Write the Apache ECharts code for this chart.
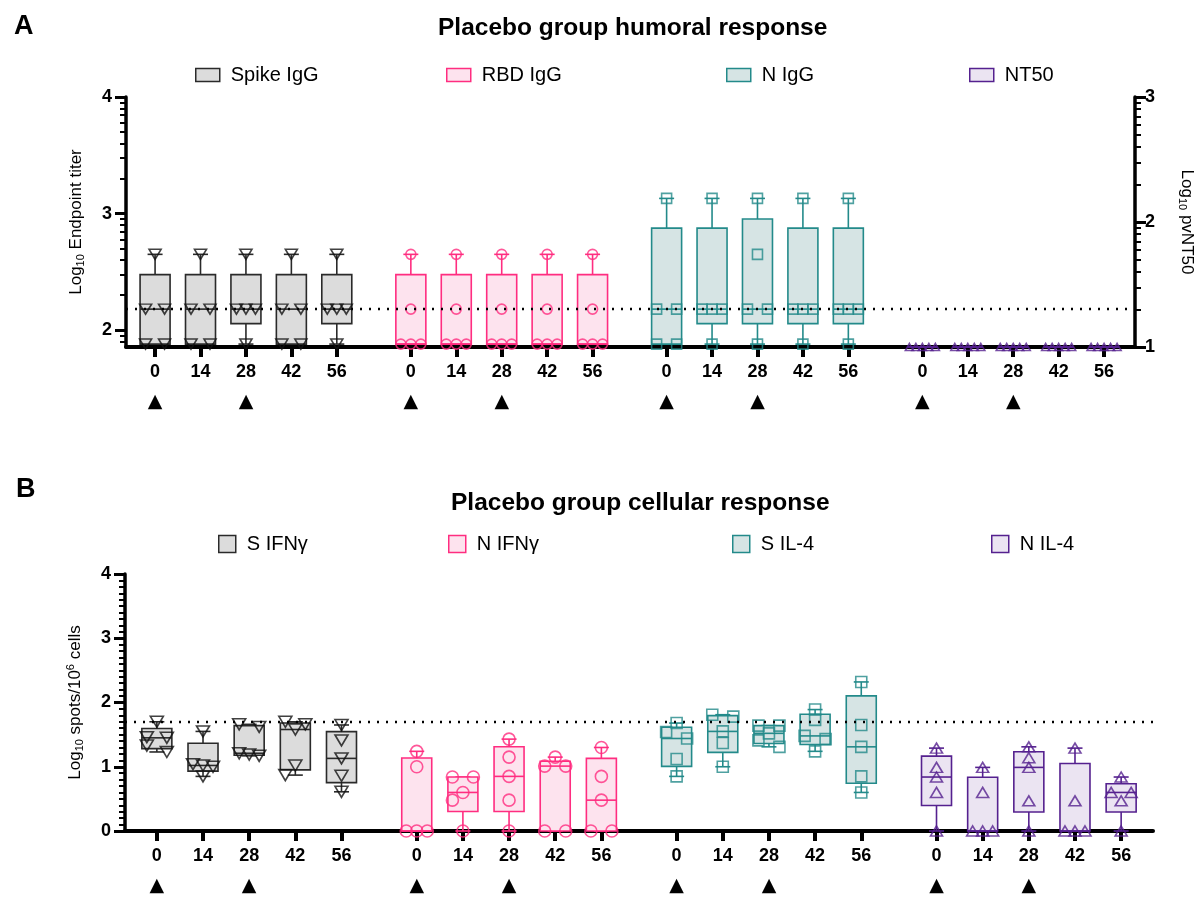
<!DOCTYPE html>
<html>
<head>
<meta charset="utf-8">
<script src="https://cdn.jsdelivr.net/npm/echarts@6/dist/echarts.min.js"></script>
<style>
  html, body { margin: 0; padding: 0; background: #fff; }
  #chart { width: 1199px; height: 898px; }
</style>
</head>
<body>
<div id="chart"></div>
<script>
// ---- data -------------------------------------------------------------
const DAYS = [0, 14, 28, 42, 56];
const BOOST_DAYS = [0, 28];

// A: log10 endpoint titers, five animals per day
const spikeIgG = [
  [2.65, 2.18, 2.18, 1.88, 1.88],
  [2.65, 2.18, 2.18, 1.88, 1.88],
  [2.65, 2.18, 2.18, 2.18, 1.88],
  [2.65, 2.18, 2.18, 1.88, 1.88],
  [2.65, 2.18, 2.18, 2.18, 1.88]
];
const rbdIgG = [
  [2.65, 2.18, 1.88, 1.88, 1.88],
  [2.65, 2.18, 1.88, 1.88, 1.88],
  [2.65, 2.18, 1.88, 1.88, 1.88],
  [2.65, 2.18, 1.88, 1.88, 1.88],
  [2.65, 2.18, 1.88, 1.88, 1.88]
];
const nIgG = [
  [3.13, 2.18, 2.18, 1.88, 1.88],
  [3.13, 2.18, 2.18, 2.18, 1.88],
  [3.13, 2.65, 2.18, 2.18, 1.88],
  [3.13, 2.18, 2.18, 2.18, 1.88],
  [3.13, 2.18, 2.18, 2.18, 1.88]
];
// A, right axis: log10 pseudovirus NT50
const nt50 = [
  [1, 1, 1, 1, 1],
  [1, 1, 1, 1, 1],
  [1, 1, 1, 1, 1],
  [1, 1, 1, 1, 1],
  [1, 1, 1, 1, 1]
];

// B: log10 spots per 10^6 cells
const sIFNg = [
  [1.70, 1.46, 1.45, 1.33, 1.23],
  [1.55, 1.04, 1.02, 1.00, 0.85],
  [1.66, 1.62, 1.21, 1.19, 1.17],
  [1.70, 1.66, 1.58, 1.02, 0.87],
  [1.65, 1.41, 1.13, 0.86, 0.61]
];
const nIFNg = [
  [1.24, 1.00, 0, 0, 0],
  [0.84, 0.84, 0.60, 0.48, 0],
  [1.43, 1.15, 0.85, 0.48, 0],
  [1.15, 1.01, 1.01, 0, 0],
  [1.30, 0.85, 0.48, 0, 0]
];
const sIL4 = [
  [1.68, 1.54, 1.44, 1.12, 0.85],
  [1.81, 1.78, 1.55, 1.37, 1.00],
  [1.64, 1.64, 1.52, 1.41, 1.31],
  [1.89, 1.73, 1.48, 1.43, 1.24],
  [2.32, 1.65, 1.31, 0.85, 0.60]
];
const nIL4 = [
  [1.29, 0.99, 0.84, 0.60, 0],
  [0.99, 0.60, 0, 0, 0],
  [1.31, 1.14, 0.99, 0.47, 0],
  [1.29, 0.47, 0, 0, 0],
  [0.84, 0.60, 0.60, 0.47, 0]
];

// detection limits (log10)
const LOD_TITER = 2.18;
const LOD_SPOTS = 1.70;

// axis ranges and tick labels
const A_LEFT = { min: 1.855, max: 4, labels: [2, 3, 4] };
const A_RIGHT = { min: 1, max: 3, labels: [1, 2, 3] };
const B_LEFT = { min: 0, max: 4, labels: [0, 1, 2, 3, 4] };

// ---- layout -----------------------------------------------------------
const FONT = '"Liberation Sans", Arial, Helvetica, sans-serif';
const GROUP_STEP = 5.63;           // spacing between antigen groups, in day slots
const GRID_A = { left: 126, top: 97, width: 1009, height: 250 };
const GRID_B = { left: 125, top: 574, width: 1028, height: 257 };
const XR_A = { min: -0.64, max: 21.57 };
const XR_B = { min: -0.69, max: 21.58 };

const positions = [];
const dayAtPos = {};
for (let g = 0; g < 4; g++) {
  DAYS.forEach((d, j) => {
    const p = +(g * GROUP_STEP + j).toFixed(3);
    positions.push(p);
    dayAtPos[p.toFixed(3)] = d;
  });
}
const xPos = (g, j) => positions[g * 5 + j];

// ---- helpers ----------------------------------------------------------
// quartiles on the untransformed scale (n+1 percentile rule), reported in log10
function boxStats(vals) {
  const raw = vals.map(v => Math.pow(10, v)).sort((a, b) => a - b);
  const n = raw.length;
  const pct = p => {
    const pos = p * (n + 1);
    const lo = Math.floor(pos), f = pos - lo;
    if (lo < 1) return raw[0];
    if (lo >= n) return raw[n - 1];
    return raw[lo - 1] + f * (raw[lo] - raw[lo - 1]);
  };
  return [raw[0], pct(0.25), pct(0.5), pct(0.75), raw[n - 1]].map(Math.log10);
}

// spread points that would overlap side by side (pixel offsets)
function spread(vals, pxPerY, size, step) {
  const pts = vals.map(v => ({ v, y: v * pxPerY, dx: 0 })).sort((a, b) => b.v - a.v);
  const bins = [];
  pts.forEach(p => {
    const b = bins[bins.length - 1];
    if (b && Math.abs(b[0].y - p.y) < size * 0.6) b.push(p); else bins.push([p]);
  });
  const placed = [];
  const hit = (y, dx) => placed.some(q => Math.abs(q.y - y) < size * 0.9 && Math.abs(q.dx - dx) < step * 0.9);
  bins.forEach(b => {
    const k = b.length;
    if (k > 1) {
      const offs = k === 2 ? [-step, step] : b.map((_, i) => (i - (k - 1) / 2) * step);
      b.forEach((p, i) => { p.dx = offs[i]; placed.push(p); });
    } else {
      const p = b[0];
      const c = [0, -step, step, -2 * step, 2 * step].find(dx => !hit(p.y, dx));
      p.dx = c === undefined ? 0 : c;
      placed.push(p);
    }
  });
  return pts;
}

function boxRenderer(stroke, fill, lw) {
  return function (params, api) {
    const x = api.value(0);
    const c = i => api.coord([x, api.value(i)]);
    const lo = c(1), q1 = c(2), md = c(3), q3 = c(4), hi = c(5);
    const hw = 15, cap = 7.5;
    const ls = { stroke, lineWidth: lw };
    return {
      type: 'group',
      children: [
        { type: 'line', shape: { x1: hi[0], y1: hi[1], x2: q3[0], y2: q3[1] }, style: ls },
        { type: 'line', shape: { x1: lo[0], y1: lo[1], x2: q1[0], y2: q1[1] }, style: ls },
        { type: 'line', shape: { x1: hi[0] - cap, y1: hi[1], x2: hi[0] + cap, y2: hi[1] }, style: ls },
        { type: 'line', shape: { x1: lo[0] - cap, y1: lo[1], x2: lo[0] + cap, y2: lo[1] }, style: ls },
        { type: 'rect', shape: { x: q3[0] - hw, y: q3[1], width: 2 * hw, height: q1[1] - q3[1] },
          style: { fill, stroke, lineWidth: lw } },
        { type: 'line', shape: { x1: md[0] - hw, y1: md[1], x2: md[0] + hw, y2: md[1] }, style: ls }
      ]
    };
  };
}

const pxA = GRID_A.width / (XR_A.max - XR_A.min);
const pxB = GRID_B.width / (XR_B.max - XR_B.min);
const pyAL = GRID_A.height / (A_LEFT.max - A_LEFT.min);
const pyAR = GRID_A.height / (A_RIGHT.max - A_RIGHT.min);
const pyB = GRID_B.height / (B_LEFT.max - B_LEFT.min);

const series = [];
const legends = [];

function addGroup(cfg) {
  const { name, data, g, grid, yIdx, color, fill, lw, symbol, rotate, size, step, pxX, pxY, mark } = cfg;
  const boxes = data.map((vals, j) => [xPos(g, j), ...boxStats(vals)]);
  const box = {
    name, type: 'custom', xAxisIndex: grid, yAxisIndex: yIdx,
    renderItem: boxRenderer(color, fill, lw),
    itemStyle: { color: fill, borderColor: color, borderWidth: 1.5 },
    encode: { x: 0, y: [1, 2, 3, 4, 5] },
    data: boxes, z: 2, silent: true
  };
  if (mark !== undefined) {
    box.markLine = {
      silent: true, symbol: 'none', label: { show: false },
      lineStyle: { color: '#000', type: [2, 7], width: 2.4 },
      data: [{ yAxis: mark }]
    };
  }
  series.push(box);
  const pts = [];
  data.forEach((vals, j) => {
    spread(vals, pxY, size[1], step).forEach(p => pts.push([xPos(g, j) + p.dx / pxX, p.v]));
  });
  series.push({
    name: name + ' points', type: 'scatter', xAxisIndex: grid, yAxisIndex: yIdx,
    symbol, symbolRotate: rotate || 0, symbolSize: size, clip: false,
    itemStyle: { color: 'rgba(255,255,255,0)', borderColor: cfg.markColor || color, borderWidth: 1.6 },
    data: pts, z: 3, silent: true
  });
}

const GRAY = { color: '#2a2a2a', fill: '#dcdcdc', markColor: '#111' };
const PINK = { color: '#ff2d80', fill: '#fde3ee' };
const TEAL = { color: '#238a8a', fill: '#d6e4e4' };
const PURP = { color: '#55218f', fill: '#ebe4f2' };

// panel A
addGroup({ name: 'Spike IgG', data: spikeIgG, g: 0, grid: 0, yIdx: 0, ...GRAY, lw: 1.6,
  symbol: 'triangle', rotate: 180, size: [12, 10], step: 9.5, pxX: pxA, pxY: pyAL, mark: LOD_TITER });
addGroup({ name: 'RBD IgG', data: rbdIgG, g: 1, grid: 0, yIdx: 0, ...PINK, lw: 1.6,
  symbol: 'circle', size: [10, 10], step: 10, pxX: pxA, pxY: pyAL });
addGroup({ name: 'N IgG', data: nIgG, g: 2, grid: 0, yIdx: 0, ...TEAL, lw: 1.6,
  symbol: 'rect', size: [10, 10], step: 10, pxX: pxA, pxY: pyAL });
addGroup({ name: 'NT50', data: nt50, g: 3, grid: 0, yIdx: 2, ...PURP, lw: 1.6,
  symbol: 'triangle', size: [8, 7], step: 6.5, pxX: pxA, pxY: pyAR });

// panel B
addGroup({ name: 'S IFNγ', data: sIFNg, g: 0, grid: 1, yIdx: 4, ...GRAY, lw: 1.6,
  symbol: 'triangle', rotate: 180, size: [13, 11], step: 10, pxX: pxB, pxY: pyB, mark: LOD_SPOTS });
addGroup({ name: 'N IFNγ', data: nIFNg, g: 1, grid: 1, yIdx: 4, ...PINK, lw: 1.6,
  symbol: 'circle', size: [12, 12], step: 10.5, pxX: pxB, pxY: pyB });
addGroup({ name: 'S IL-4', data: sIL4, g: 2, grid: 1, yIdx: 4, ...TEAL, lw: 1.6,
  symbol: 'rect', size: [11, 11], step: 10.5, pxX: pxB, pxY: pyB });
addGroup({ name: 'N IL-4', data: nIL4, g: 3, grid: 1, yIdx: 4, ...PURP, lw: 1.6,
  symbol: 'triangle', size: [12, 10], step: 10, pxX: pxB, pxY: pyB });

function legendItem(name, c, left, top, w, h) {
  return {
    left, top, selectedMode: false, icon: 'rect', itemWidth: w, itemHeight: h, itemGap: 14,
    textStyle: { fontSize: 20, color: '#000', fontFamily: FONT, padding: [0, 0, 0, 6] },
    data: [{ name, itemStyle: { color: c.fill, borderColor: c.color, borderWidth: 1.5 } }]
  };
}
legends.push(
  legendItem('Spike IgG', GRAY, 190, 60, 24, 13),
  legendItem('RBD IgG', PINK, 441, 60, 24, 13),
  legendItem('N IgG', TEAL, 721, 60, 24, 13),
  legendItem('NT50', PURP, 964, 60, 24, 13),
  legendItem('S IFNγ', GRAY, 213, 529, 17, 17),
  legendItem('N IFNγ', PINK, 443, 529, 17, 17),
  legendItem('S IL-4', TEAL, 727, 529, 17, 17),
  legendItem('N IL-4', PURP, 986, 529, 17, 17)
);

// log-style minor ticks
function logMinor(min, max) {
  const out = [];
  for (let d = Math.floor(min); d < max; d++) {
    for (let k = 2; k <= 9; k++) {
      const v = d + Math.log10(k);
      if (v > min && v < max) out.push(+v.toFixed(4));
    }
  }
  return out;
}
function linMinor(min, max, step) {
  const out = [];
  for (let v = min + step; v < max - 1e-9; v += step) {
    if (Math.abs(v - Math.round(v)) > 1e-6) out.push(+v.toFixed(3));
  }
  return out;
}

const AXIS_LINE = { show: true, onZero: false, lineStyle: { color: '#000', width: 3.5 } };
const tickLabel = { fontSize: 18, fontWeight: 'bold', color: '#000', fontFamily: FONT };
const nameStyle = () => ({
  fontSize: 17, color: '#000', fontFamily: FONT,
  rich: {
    s: { fontSize: 11, fontFamily: FONT, color: '#000', verticalAlign: 'bottom', padding: [9, 0, 0, 0] },
    u: { fontSize: 11, fontFamily: FONT, color: '#000', verticalAlign: 'top', padding: [0, 0, 9, 0] }
  }
});

function majorY(grid, pos, r, name, gap, rot, margin) {
  return {
    gridIndex: grid, type: 'value', position: pos, min: r.min, max: r.max,
    axisLine: AXIS_LINE,
    axisTick: { show: true, customValues: r.labels, length: 11, lineStyle: { color: '#000', width: 3 } },
    axisLabel: { customValues: r.labels, margin, ...tickLabel },
    splitLine: { show: false },
    name, nameLocation: 'middle', nameGap: gap, nameRotate: rot, nameTextStyle: nameStyle()
  };
}
function minorY(grid, pos, r, ticks) {
  return {
    gridIndex: grid, type: 'value', position: pos, min: r.min, max: r.max,
    axisLine: { show: false, onZero: false },
    axisTick: { show: true, customValues: ticks, length: 6, lineStyle: { color: '#000', width: 2 } },
    axisLabel: { show: false, customValues: ticks },
    splitLine: { show: false }
  };
}

function xAxis(grid, r) {
  return {
    gridIndex: grid, type: 'value', min: r.min, max: r.max,
    axisLine: { show: true, onZero: false, lineStyle: { color: '#000', width: 4 } },
    axisTick: { show: true, customValues: positions, length: 10, lineStyle: { color: '#000', width: 4 } },
    axisLabel: {
      customValues: positions, margin: 10,
      formatter: v => {
        const d = dayAtPos[(+v).toFixed(3)];
        return BOOST_DAYS.includes(d) ? '{n|' + d + '}\n{t|▲}' : '{n|' + d + '}';
      },
      rich: {
        n: { fontSize: 18, fontWeight: 'bold', color: '#000', fontFamily: FONT, lineHeight: 30 },
        t: { fontSize: 19, color: '#000', fontFamily: '"DejaVu Sans", sans-serif', lineHeight: 30 }
      }
    },
    splitLine: { show: false }
  };
}

const titleStyle = { fontSize: 24.5, fontWeight: 'bold', color: '#000', fontFamily: FONT };
const option = {
  animation: false,
  backgroundColor: '#fff',
  textStyle: { fontFamily: FONT },
  title: [
    { text: 'A', left: 9, top: 8, textStyle: { fontSize: 27, fontWeight: 'bold', color: '#000', fontFamily: FONT } },
    { text: 'Placebo group humoral response', left: 433, top: 11, textStyle: titleStyle },
    { text: 'B', left: 11, top: 471, textStyle: { fontSize: 27, fontWeight: 'bold', color: '#000', fontFamily: FONT } },
    { text: 'Placebo group cellular response', left: 446, top: 486, textStyle: titleStyle }
  ],
  legend: legends,
  grid: [
    { ...GRID_A, containLabel: false, outerBoundsMode: 'none' },
    { ...GRID_B, containLabel: false, outerBoundsMode: 'none' }
  ],
  xAxis: [xAxis(0, XR_A), xAxis(1, XR_B)],
  yAxis: [
    majorY(0, 'left', A_LEFT, 'Log{s|10} Endpoint titer', 40, 90, 14),
    minorY(0, 'left', A_LEFT, logMinor(A_LEFT.min, A_LEFT.max)),
    majorY(0, 'right', A_RIGHT, 'Log{s|10} pvNT50', 42, -90, 10),
    minorY(0, 'right', A_RIGHT, logMinor(A_RIGHT.min, A_RIGHT.max)),
    majorY(1, 'left', B_LEFT, 'Log{s|10} spots/10{u|6} cells', 40, 90, 14),
    minorY(1, 'left', B_LEFT, linMinor(B_LEFT.min, B_LEFT.max, 0.1))
  ],
  series
};

const chart = echarts.init(document.getElementById('chart'), null, { renderer: 'canvas' });
chart.setOption(option);
</script>
</body>
</html>
